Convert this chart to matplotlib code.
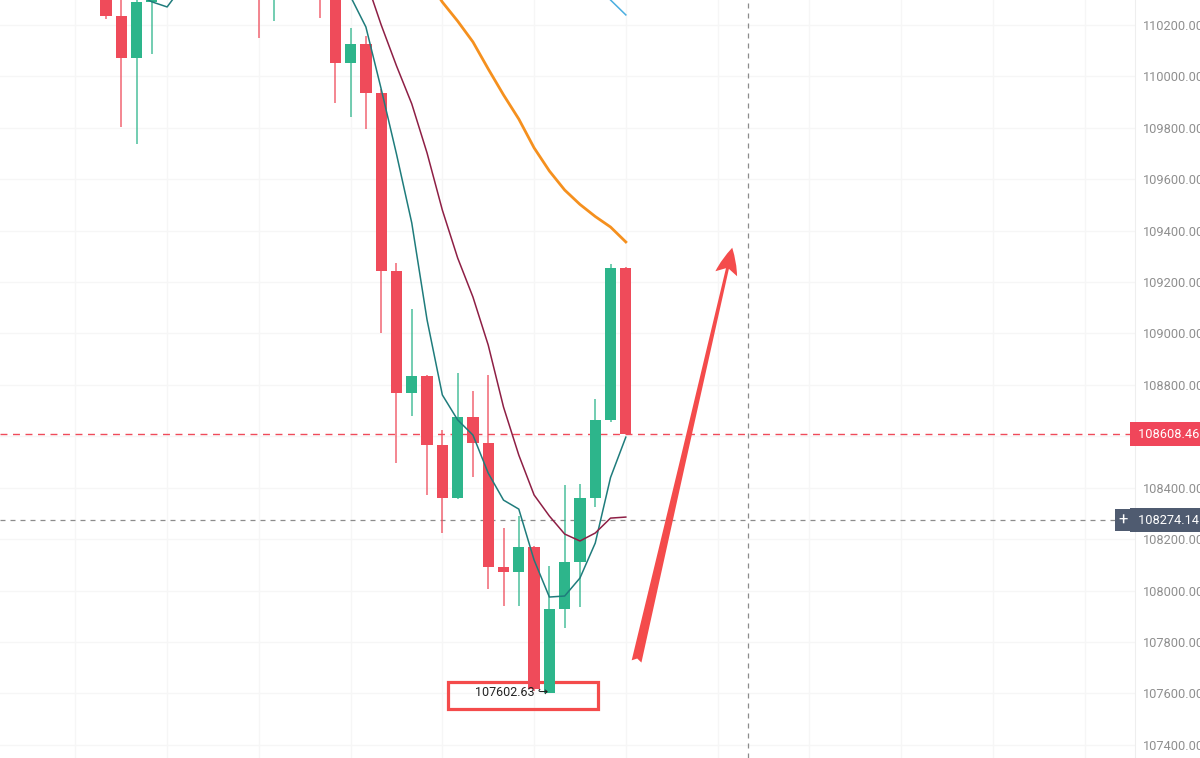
import matplotlib
matplotlib.use("Agg")
import matplotlib.pyplot as plt
import matplotlib.transforms as mtransforms
from matplotlib.patches import FancyArrowPatch, Rectangle
import numpy as np

plt.rcParams['font.family'] = ['Roboto', 'DejaVu Sans']

# OHLC (candles above the top edge are guesses, they get clipped)
opens = [110330, 110235, 110072, 110288, 110340, 110420, 110380, 110480, 110450, 110510,
         110520, 110400, 110480, 110450, 110500, 110420, 110052, 110126, 109936, 109243,
         108769, 108835, 108566, 108360, 108675, 108574, 108092, 108072, 108169, 107603,
         107928, 108111, 108360, 108663, 109255]
highs = [110380, 110310, 110320, 110380, 110460, 110470, 110520, 110560, 110540, 110580,
         110560, 110520, 110530, 110540, 110540, 110440, 110188, 110157, 109950, 109274,
         109095, 108840, 108625, 108846, 108776, 108839, 108243, 108290, 108175, 108096,
         108411, 108415, 108745, 109270, 109260]
lows = [110223, 109803, 109737, 110087, 110310, 110330, 110340, 110420, 110380, 110430,
        110149, 110216, 110380, 110400, 110227, 109897, 109842, 109795, 109002, 108496,
        108679, 108372, 108224, 108355, 108442, 108006, 107940, 107940, 107610, 107602.63,
        107854, 107936, 108325, 108656, 108608]
closes = [110235, 110072, 110288, 110340, 110420, 110380, 110480, 110450, 110510, 110520,
          110400, 110480, 110450, 110500, 110420, 110052, 110126, 109936, 109243, 108769,
          108835, 108566, 108360, 108675, 108574, 108092, 108072, 108169, 107617, 107928,
          108111, 108360, 108663, 109255, 108608.46]

nan = np.nan
ma_fast = [110420, 110380, 110320, 110290, 110270, 110350, 110390, 110420, 110440, 110460,
           110470, 110470, 110460, 110450, 110420, 110370, 110310, 110192, 109951, 109698,
           109430, 109053, 108761, 108664, 108605, 108457, 108352, 108317, 108119, 107975,
           107979, 108049, 108185, 108440, 108597]
ma_mid = [110500, 110500, 110490, 110480, 110480, 110480, 110480, 110480, 110480, 110480,
          110480, 110480, 110480, 110470, 110460, 110440, 110420, 110375, 110200, 110041,
          109893, 109702, 109480, 109294, 109142, 108955, 108714, 108527, 108372, 108290,
          108220, 108193, 108224, 108282, 108286]
ma_slow = [nan] * 20 + [110470, 110380, 110289, 110215, 110134, 110029, 109928, 109834,
                        109722, 109632, 109558, 109502, 109455, 109414, 109356]
ma_long = [nan] * 31 + [110410, 110355, 110297, 110239]

last_price = 108608.46
cross_price = 108274.14
cross_x = 42
low_idx = 29
yticks = list(range(107400, 110201, 200))

up_col = '#2db58b'
down_col = '#ef4b5a'

fig = plt.figure(figsize=(12, 7.58), dpi=100)
ax = fig.add_axes([0, 0, 1135 / 1200, 1])

x = np.arange(len(opens))
for i in x:
    o, h, l, c = opens[i], highs[i], lows[i], closes[i]
    col = up_col if c >= o else down_col
    ax.vlines(i, l, h, color=col, lw=1.1, alpha=0.85, zorder=3)
    ax.bar(i, max(abs(c - o), 8), bottom=min(o, c), width=0.74, color=col, zorder=4)

ax.plot(x, ma_fast, color='#1f7c7c', lw=1.1, zorder=5)
ax.plot(x, ma_mid, color='#8e1f45', lw=1.1, zorder=5)
ax.plot(x, ma_slow, color='#f5901e', lw=2, zorder=5)
ax.plot(x, ma_long, color='#4aaee0', lw=1.1, zorder=5)

# last price + crosshair
ax.axhline(last_price, color=down_col, lw=1, ls=(0, (5, 4)), zorder=2)
ax.axhline(cross_price, color='#8c8c8c', lw=0.9, ls=(0, (4, 4)), zorder=2)
ax.axvline(cross_x, color='#8c8c8c', lw=0.9, ls=(0, (4, 4)), zorder=2)

ax.set_xlim(-6.93, 67.3)
ax.set_ylim(107349, 110297)
ax.set_xticks(np.arange(-2, 67, 6))
ax.set_yticks(yticks)
ax.set_yticklabels(['%.2f' % v if v != 108600 else '' for v in yticks])
ax.grid(True, color='#f6f6f6', lw=1, zorder=0)
ax.tick_params(axis='x', length=0, labelbottom=False)
ax.yaxis.tick_right()
ax.tick_params(axis='y', length=0, pad=6, labelsize=9.2, labelcolor='#8f8f8f')
for s in ['top', 'bottom', 'left']:
    ax.spines[s].set_visible(False)
ax.spines['right'].set_color('#eeeeee')

tr = mtransforms.blended_transform_factory(ax.transAxes, ax.transData)
ax.text(1.0, last_price, ' 108608.46   ', transform=tr, ha='left', va='center',
        fontsize=9.2, color='white', clip_on=False, zorder=10,
        bbox=dict(boxstyle='square,pad=0.42', fc='#f0465a', ec='none'))
ax.text(1.0, cross_price, ' 108274.14   ', transform=tr, ha='left', va='center',
        fontsize=9.2, color='white', clip_on=False, zorder=10,
        bbox=dict(boxstyle='square,pad=0.42', fc='#4f5b70', ec='none'))
ax.text(0.9895, cross_price, '+', transform=tr, ha='center', va='center',
        fontsize=12, color='white', clip_on=False, zorder=10,
        bbox=dict(boxstyle='square,pad=0.22', fc='#4f5b70', ec='none'))

# low marker with hand-drawn box
ax.text(low_idx - 0.05, lows[low_idx], '107602.63 \u21aa', ha='right', va='center',
        fontsize=9, color='#222222', zorder=6)
ax.add_patch(Rectangle((22.4, 107540), 9.8, 105, fill=False, ec='#f44b4b', lw=2.3, zorder=3))

# drawn arrow
arr = FancyArrowPatch((34.66, 107714), (41.0, 109344),
                      arrowstyle='fancy,head_length=1.2,head_width=1.0,tail_width=0.45',
                      mutation_scale=16, color='#f44b4b', lw=0, zorder=6)
ax.add_patch(arr)

fig.savefig('out.png', dpi=100)
